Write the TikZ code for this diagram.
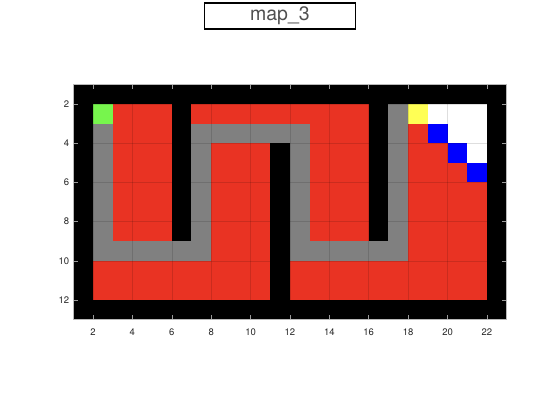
\documentclass[tikz,border=0pt]{standalone}
\usepackage{fontspec}
\setmainfont{TeX Gyre Heros}
\definecolor{mapred}{RGB}{233,51,35}
\definecolor{mapgray}{RGB}{128,128,128}
\definecolor{mapgreen}{RGB}{119,245,77}
\definecolor{mapyellow}{RGB}{255,255,85}
\definecolor{mapblue}{RGB}{0,0,255}
\definecolor{titlegray}{RGB}{80,80,80}
\tikzset{
  ticklbl/.style={font=\fontsize{9.5}{10}\selectfont, text=black!85, inner sep=0pt},
  gridln/.style={black, opacity=0.13, line width=0.5pt},
  tickln/.style={gray!80, line width=0.5pt},
}
\begin{document}
\begin{tikzpicture}[x=19.7pt, y=-19.6pt]
  \useasboundingbox (-2.72,-3.31) rectangle (25.71,18.12);
  % map cells: walls first, then free cells
  \fill[black] (1,1) rectangle (23,13);
  \foreach \a/\b in {{3,2}/{6,9}, {7,2}/{16,3}, {8,4}/{11,10}, {13,3}/{16,9},
                     {2,10}/{11,12}, {12,10}/{22,12}, {18,3}/{22,10}}
    \fill[mapred] (\a) rectangle (\b);
  % path cells
  \foreach \a/\b in {{2,3}/{3,10}, {2,9}/{8,10}, {7,3}/{8,10}, {7,3}/{13,4},
                     {12,3}/{13,10}, {12,9}/{18,10}, {17,2}/{18,10}}
    \fill[mapgray] (\a) rectangle (\b);
  % start, goal and unknown corner
  \fill[mapgreen] (2,2) rectangle (3,3);
  \fill[mapyellow] (18,2) rectangle (19,3);
  \fill[white] (19,2) rectangle (22,3);
  \fill[white] (20,3) rectangle (22,4);
  \fill[white] (21,4) rectangle (22,5);
  \foreach \x/\y in {19/3, 20/4, 21/5}
    \fill[mapblue] (\x,\y) rectangle (\x+1,\y+1);
  % grid and ticks
  \foreach \x in {2,4,...,22} {
    \draw[gridln] (\x,1) -- (\x,13);
    \draw[tickln] (\x,13) -- (\x,12.78);
    \draw[tickln] (\x,1) -- (\x,1.22);
    \node[ticklbl] (xl\x) at (\x,13.62) {\x};
  }
  \foreach \y in {2,4,...,12} {
    \draw[gridln] (1,\y) -- (23,\y);
    \draw[tickln] (1,\y) -- (1.22,\y);
    \draw[tickln] (23,\y) -- (22.78,\y);
    \node[ticklbl, anchor=east] (yl\y) at (0.8,\y) {\y};
  }
  \draw[gray!55, line width=0.6pt] (1,1) rectangle (23,13);
  % title box
  \node[draw=black, line width=1.3pt, fill=white, minimum width=151pt,
        minimum height=26pt, text=titlegray, font=\fontsize{19.5}{21}\selectfont]
    (title) at (11.49,-2.49) {map\_3};
\end{tikzpicture}
\end{document}
